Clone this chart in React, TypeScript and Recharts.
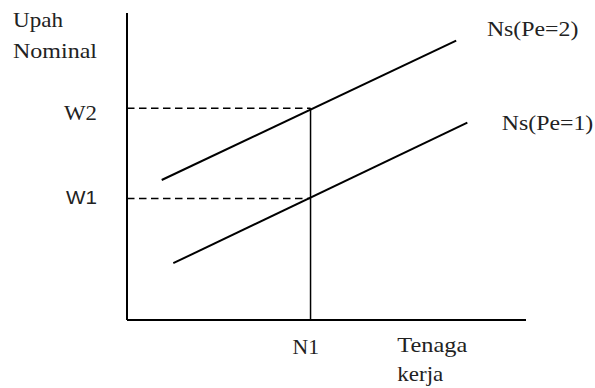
import React from "react";
import { LineChart, Line, XAxis, YAxis, ReferenceLine, Label } from "recharts";

// Data (domain units 0..100 on both axes)
const pe2Line = [
  { x: 8.7, y: 45.6 },
  { x: 82.5, y: 91.0 },
];
const pe1Line = [
  { x: 11.6, y: 18.5 },
  { x: 85.3, y: 64.3 },
];
const N1 = 46.0;
const W1 = 39.6;
const W2 = 69.0;
const yTicks = [W1, W2];
const yTickLabels = ["W1", "W2"];
const xTicks = [N1];
const xTickLabels = ["N1"];
const seriesNames = ["Ns(Pe=2)", "Ns(Pe=1)"];

const SERIF = "'Liberation Serif', 'Times New Roman', serif";
const SANS = "'Liberation Sans', Arial, sans-serif";
const FS = 21;

const YTick = (props: any) => {
  const { x, y, payload } = props;
  const i = yTicks.indexOf(payload.value);
  const label = yTickLabels[i];
  const isW2 = label === "W2";
  return (
    <text
      x={x - 28}
      y={y + (isW2 ? 11.7 : 5.2)}
      textAnchor="end"
      fontFamily={isW2 ? SERIF : SANS}
      fontSize={isW2 ? 21 : 19}
      textLength={isW2 ? 33 : 31}
      lengthAdjust="spacingAndGlyphs"
      fill="#222"
    >
      {label}
    </text>
  );
};

const XTick = (props: any) => {
  const { x, y, payload } = props;
  const i = xTicks.indexOf(payload.value);
  return (
    <text
      x={x - 4.7}
      y={y + 32.3}
      textAnchor="middle"
      fontFamily={SERIF}
      fontSize={FS}
      textLength={26.5}
      lengthAdjust="spacingAndGlyphs"
      fill="#222"
    >
      {xTickLabels[i]}
    </text>
  );
};

const makeEndLabel = (name: string, dx: number, dy: number) => (props: any) => {
  const { x, y, index } = props;
  if (index !== 1) return null;
  return (
    <text
      x={x + dx}
      y={y + dy}
      fontFamily={SERIF}
      fontSize={FS}
      textLength={91.5}
      lengthAdjust="spacingAndGlyphs"
      fill="#222"
    >
      {name}
    </text>
  );
};

export default function App() {
  return (
    <div style={{ position: "absolute", left: 0, top: 0, width: 595, height: 388, background: "#fff" }}>
      <LineChart
        width={595}
        height={388}
        margin={{ top: 13, right: 69, bottom: 0, left: 0 }}
      >
        <XAxis
          type="number"
          dataKey="x"
          domain={[0, 100]}
          ticks={xTicks}
          tick={<XTick />}
          tickLine={false}
          tickSize={0}
          height={68}
          axisLine={{ stroke: "#000", strokeWidth: 2 }}
          allowDataOverflow
        >
          <Label
            content={(p: any) => {
              const vb = p.viewBox;
              const tx = vb.x + 270.3;
              return (
                <g fontFamily={SERIF} fontSize={FS} fill="#222">
                  <text x={tx} y={vb.y + 32.3} textLength={70} lengthAdjust="spacingAndGlyphs">Tenaga</text>
                  <text x={tx} y={vb.y + 61} textLength={46} lengthAdjust="spacingAndGlyphs">kerja</text>
                </g>
              );
            }}
          />
        </XAxis>
        <YAxis
          type="number"
          domain={[0, 100]}
          ticks={yTicks}
          tick={<YTick />}
          tickLine={false}
          tickSize={0}
          width={127}
          axisLine={{ stroke: "#000", strokeWidth: 2 }}
          allowDataOverflow
        >
          <Label
            content={(p: any) => {
              const vb = p.viewBox;
              const tx = vb.x + 13;
              return (
                <g fontFamily={SERIF} fontSize={FS} fill="#222">
                  <text x={tx} y={vb.y + 13.7} textLength={50} lengthAdjust="spacingAndGlyphs">Upah</text>
                  <text x={tx} y={vb.y + 45.3} textLength={84} lengthAdjust="spacingAndGlyphs">Nominal</text>
                </g>
              );
            }}
          />
        </YAxis>
        <ReferenceLine
          segment={[{ x: 0, y: W2 }, { x: N1, y: W2 }]}
          stroke="#000"
          strokeWidth={1.5}
          strokeDasharray="7.5 4.5"
        />
        <ReferenceLine
          segment={[{ x: 0, y: W1 }, { x: N1, y: W1 }]}
          stroke="#000"
          strokeWidth={1.5}
          strokeDasharray="7.5 4.5"
        />
        <ReferenceLine
          segment={[{ x: N1, y: 0 }, { x: N1, y: W2 }]}
          stroke="#000"
          strokeWidth={1.5}
        />
        <Line
          data={pe2Line}
          dataKey="y"
          type="linear"
          stroke="#000"
          strokeWidth={2}
          dot={false}
          activeDot={false}
          isAnimationActive={false}
          label={makeEndLabel(seriesNames[0], 30.7, -5)}
        />
        <Line
          data={pe1Line}
          dataKey="y"
          type="linear"
          stroke="#000"
          strokeWidth={2}
          dot={false}
          activeDot={false}
          isAnimationActive={false}
          label={makeEndLabel(seriesNames[1], 34.4, 7.3)}
        />
      </LineChart>
    </div>
  );
}
